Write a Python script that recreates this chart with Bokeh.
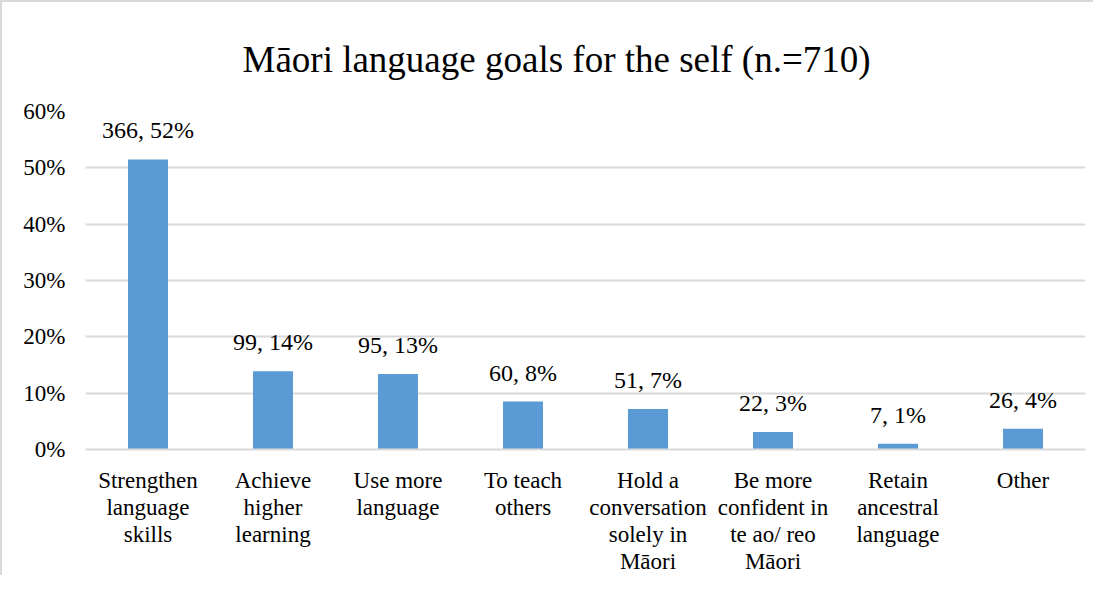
from bokeh.plotting import figure
from bokeh.models import ColumnDataSource, FactorRange, NumeralTickFormatter, FixedTicker, LabelSet
from bokeh.embed import file_html
from bokeh.resources import INLINE

title_text = "Māori language goals for the self (n.=710)"
categories = [
    "Strengthen\nlanguage\nskills",
    "Achieve\nhigher\nlearning",
    "Use more\nlanguage",
    "To teach\nothers",
    "Hold a\nconversation\nsolely in\nMāori",
    "Be more\nconfident in\nte ao/ reo\nMāori",
    "Retain\nancestral\nlanguage",
    "Other",
]
counts = [366, 99, 95, 60, 51, 22, 7, 26]
shares = [0.515, 0.139, 0.134, 0.085, 0.072, 0.031, 0.010, 0.037]
pct_labels = ["52%", "14%", "13%", "8%", "7%", "3%", "1%", "4%"]
y_ticks = [0.0, 0.1, 0.2, 0.3, 0.4, 0.5, 0.6]

labels = [f"{c}, {p}" for c, p in zip(counts, pct_labels)]
src = ColumnDataSource(dict(cat=categories, val=shares, lab=labels))

FONT = "Liberation Serif"
GRID = "#d9d9d9"

p = figure(
    x_range=FactorRange(*categories, range_padding=0),
    y_range=(0, 0.6),
    width=1093, height=575,
    output_backend="svg", toolbar_location=None,
    min_border_left=83, min_border_right=10,
    min_border_top=109, min_border_bottom=110,
    title=title_text,
)
p.styles = {"border-top": "2px solid #d9d9d9", "border-left": "2px solid #d9d9d9"}

p.title.align = "left"
p.title.offset = 157
p.title.text_font = FONT
p.title.text_font_size = "37px"
p.title.text_font_style = "normal"
p.title.text_color = "#000000"
p.title.standoff = 64

p.vbar(x="cat", top="val", width=0.32, source=src, color="#5B9BD5", line_color=None)

p.add_layout(LabelSet(x="cat", y="val", text="lab", source=src,
                      text_align="center", text_baseline="bottom", y_offset=16,
                      text_font=FONT, text_font_size="24px", text_color="#000000"))

p.outline_line_color = None
p.xgrid.grid_line_color = None
p.ygrid.grid_line_color = GRID
p.ygrid.grid_line_width = 2
p.yaxis.ticker = FixedTicker(ticks=y_ticks)
p.yaxis.formatter = NumeralTickFormatter(format="0%")
p.yaxis.axis_line_color = None
p.yaxis.major_tick_line_color = None
p.yaxis.minor_tick_line_color = None
p.yaxis.major_label_standoff = 14
p.xaxis.axis_line_color = GRID
p.xaxis.axis_line_width = 2
p.xaxis.major_tick_line_color = None
p.xaxis.major_label_standoff = 12
p.xaxis.major_label_text_line_height = 1.09
for ax in (p.xaxis, p.yaxis):
    ax.major_label_text_font = FONT
    ax.major_label_text_font_size = "23px"
    ax.major_label_text_color = "#000000"

open("out.html", "w").write(file_html(p, INLINE))
